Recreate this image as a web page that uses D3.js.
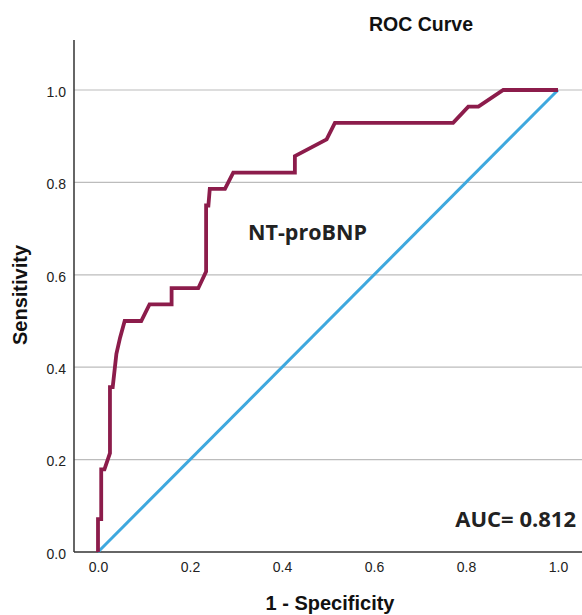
<!DOCTYPE html>
<meta charset="utf-8">
<script src="https://d3js.org/d3.v7.min.js"></script>
<style>
  body { margin: 0; background: #fff; }
  text { font-family: "Liberation Sans", Arial, sans-serif; }
</style>
<div id="chart"></div>
<script>
  // ROC curve points
  const fpr = [0, 0, 0.007, 0.007, 0.014, 0.026, 0.026, 0.032, 0.04, 0.048, 0.058, 0.094, 0.112, 0.16, 0.16, 0.218, 0.235, 0.235, 0.24, 0.243, 0.276, 0.294, 0.428, 0.428, 0.497, 0.515, 0.772, 0.805, 0.827, 0.881, 1.0];
  const tpr = [0, 0.071, 0.071, 0.179, 0.179, 0.214, 0.357, 0.357, 0.429, 0.464, 0.5, 0.5, 0.536, 0.536, 0.571, 0.571, 0.607, 0.75, 0.75, 0.786, 0.786, 0.821, 0.821, 0.857, 0.893, 0.929, 0.929, 0.964, 0.964, 1.0, 1.0];
  const refLine = [0, 1];
  const ticks = [0, 0.2, 0.4, 0.6, 0.8, 1.0];

  const width = 582, height = 615;
  const plotLeft = 74, plotRight = 582, plotTop = 40, plotBottom = 552;

  const svg = d3.select("#chart").append("svg")
    .attr("width", width)
    .attr("height", height);

  const x = d3.scaleLinear().domain([0, 1]).range([98, 558]);
  const y = d3.scaleLinear().domain([0, 1]).range([552, 90]);

  // grid lines
  svg.append("g")
    .selectAll("line")
    .data(ticks.slice(1))
    .join("line")
    .attr("x1", plotLeft)
    .attr("x2", plotRight)
    .attr("y1", d => y(d))
    .attr("y2", d => y(d))
    .attr("stroke", "#bcbcbc")
    .attr("stroke-width", 1.2);

  // axes
  const xAxis = svg.append("g")
    .attr("transform", `translate(0,${plotBottom})`)
    .call(d3.axisBottom(x).tickValues(ticks).tickFormat(d3.format(".1f")).tickSize(0).tickPadding(10));
  xAxis.select(".domain").remove();
  xAxis.selectAll("text").attr("font-size", 14).attr("fill", "#222");

  const yAxis = svg.append("g")
    .attr("transform", `translate(${plotLeft},0)`)
    .call(d3.axisLeft(y).tickValues(ticks).tickFormat(d3.format(".1f")).tickSize(0).tickPadding(8));
  yAxis.select(".domain").remove();
  yAxis.selectAll("text").attr("font-size", 14).attr("fill", "#222").attr("dy", "0.45em");

  svg.append("line")
    .attr("x1", plotLeft).attr("x2", plotRight)
    .attr("y1", plotBottom).attr("y2", plotBottom)
    .attr("stroke", "#333").attr("stroke-width", 1.5);
  svg.append("line")
    .attr("x1", plotLeft).attr("x2", plotLeft)
    .attr("y1", plotTop).attr("y2", plotBottom)
    .attr("stroke", "#333").attr("stroke-width", 1.5);

  // reference diagonal
  svg.append("path")
    .datum(refLine)
    .attr("d", d3.line().x(d => x(d)).y(d => y(d)))
    .attr("fill", "none")
    .attr("stroke", "#3ea8de")
    .attr("stroke-width", 3);

  // ROC curve
  svg.append("path")
    .datum(fpr.map((f, i) => [f, tpr[i]]))
    .attr("d", d3.line().x(d => x(d[0])).y(d => y(d[1])))
    .attr("fill", "none")
    .attr("stroke", "#8c1c4b")
    .attr("stroke-width", 3.8)
    .attr("stroke-linejoin", "miter");

  // texts
  svg.append("text")
    .attr("x", 421).attr("y", 31)
    .attr("text-anchor", "middle")
    .attr("font-size", 19.5).attr("font-weight", "bold")
    .attr("fill", "#111")
    .text("ROC Curve");

  svg.append("text")
    .attr("x", 330).attr("y", 610)
    .attr("text-anchor", "middle")
    .attr("font-size", 20).attr("font-weight", "bold")
    .attr("fill", "#111")
    .text("1 - Specificity");

  svg.append("text")
    .attr("transform", "translate(27,295) rotate(-90)")
    .attr("text-anchor", "middle")
    .attr("font-size", 20).attr("font-weight", "bold")
    .attr("fill", "#111")
    .text("Sensitivity");

  svg.append("text")
    .attr("x", 248).attr("y", 240)
    .style("font-family", "'Open Sans', sans-serif")
    .attr("font-size", 21.5).attr("font-weight", "bold")
    .attr("fill", "#222")
    .text("NT-proBNP");

  svg.append("text")
    .attr("x", 576).attr("y", 527)
    .attr("text-anchor", "end")
    .style("font-family", "'Open Sans', sans-serif")
    .attr("font-size", 22).attr("font-weight", "bold")
    .attr("fill", "#222")
    .text("AUC= 0.812");
</script>
